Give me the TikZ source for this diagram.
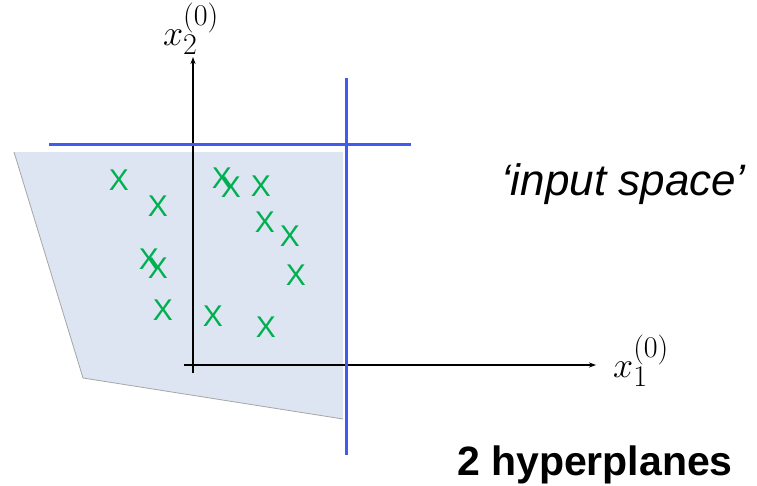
\documentclass[tikz,border=0pt]{standalone}
\usepackage{fontspec}
\setmainfont{Liberation Sans}
\usetikzlibrary{arrows.meta}
\definecolor{regionfill}{HTML}{DCE5F1}
\definecolor{planeblue}{HTML}{3F5BF0}
\definecolor{ptgreen}{HTML}{00B050}
\tikzset{
  axisline/.style={line width=2pt, black, -{Stealth[length=7pt,width=5pt]}},
  plane/.style={line width=3pt, planeblue},
  pt/.style={text=ptgreen, inner sep=0pt, font=\fontsize{30}{30}\selectfont},
  axlabel/.style={inner sep=0pt, font=\fontsize{30}{36}\selectfont}
}
\begin{document}
\begin{tikzpicture}[x=1pt,y=-1pt]
\useasboundingbox (0,0) rectangle (757,485);
% region
\coordinate (p1) at (14,152);
\coordinate (p2) at (343,152);
\coordinate (p3) at (343,419);
\coordinate (p4) at (83,378);
\fill[regionfill] (p1) -- (p2) -- (p3) -- (p4) -- cycle;
\draw[gray!70, line width=0.8pt] (p1) -- (p4) -- (p3);
% axes
\coordinate (ox) at (184,365);
\coordinate (xe) at (596,365);
\coordinate (oy) at (193,373);
\coordinate (ye) at (193,57);
\draw[axisline] (ox) -- (xe);
\draw[axisline] (oy) -- (ye);
\node[axlabel, anchor=west] (l1) at (613,361) {\scalebox{1.45}{$x_1^{(0)}$}};
\node[axlabel] (l2) at (191,29) {\scalebox{1.45}{$x_2^{(0)}$}};
% hyperplanes
\coordinate (h1) at (49,144);
\coordinate (h2) at (411,144);
\coordinate (v1) at (346,78);
\coordinate (v2) at (346,455);
\draw[plane] (h1) -- (h2);
\draw[plane] (v1) -- (v2);
% points
\node[pt] (a1) at (119,180) {X};
\node[pt] (a2) at (158,206) {X};
\node[pt] (a3) at (222,178) {X};
\node[pt] (a4) at (231,187) {X};
\node[pt] (a5) at (261,186) {X};
\node[pt] (a6) at (265,222) {X};
\node[pt] (a7) at (290,236) {X};
\node[pt] (a8) at (149,259) {X};
\node[pt] (a9) at (158,268) {X};
\node[pt] (a10) at (296,275) {X};
\node[pt] (a11) at (163,310) {X};
\node[pt] (a12) at (213,316) {X};
\node[pt] (a13) at (266,327) {X};
% texts
\node[anchor=base east, inner sep=0pt, font=\fontsize{44}{44}\selectfont\itshape] (t1) at (746,195) {‘input space’};
\node[anchor=base east, inner sep=0pt, font=\fontsize{41}{41}\selectfont\bfseries] (t2) at (733,475) {2 hyperplanes};
\end{tikzpicture}
\end{document}
